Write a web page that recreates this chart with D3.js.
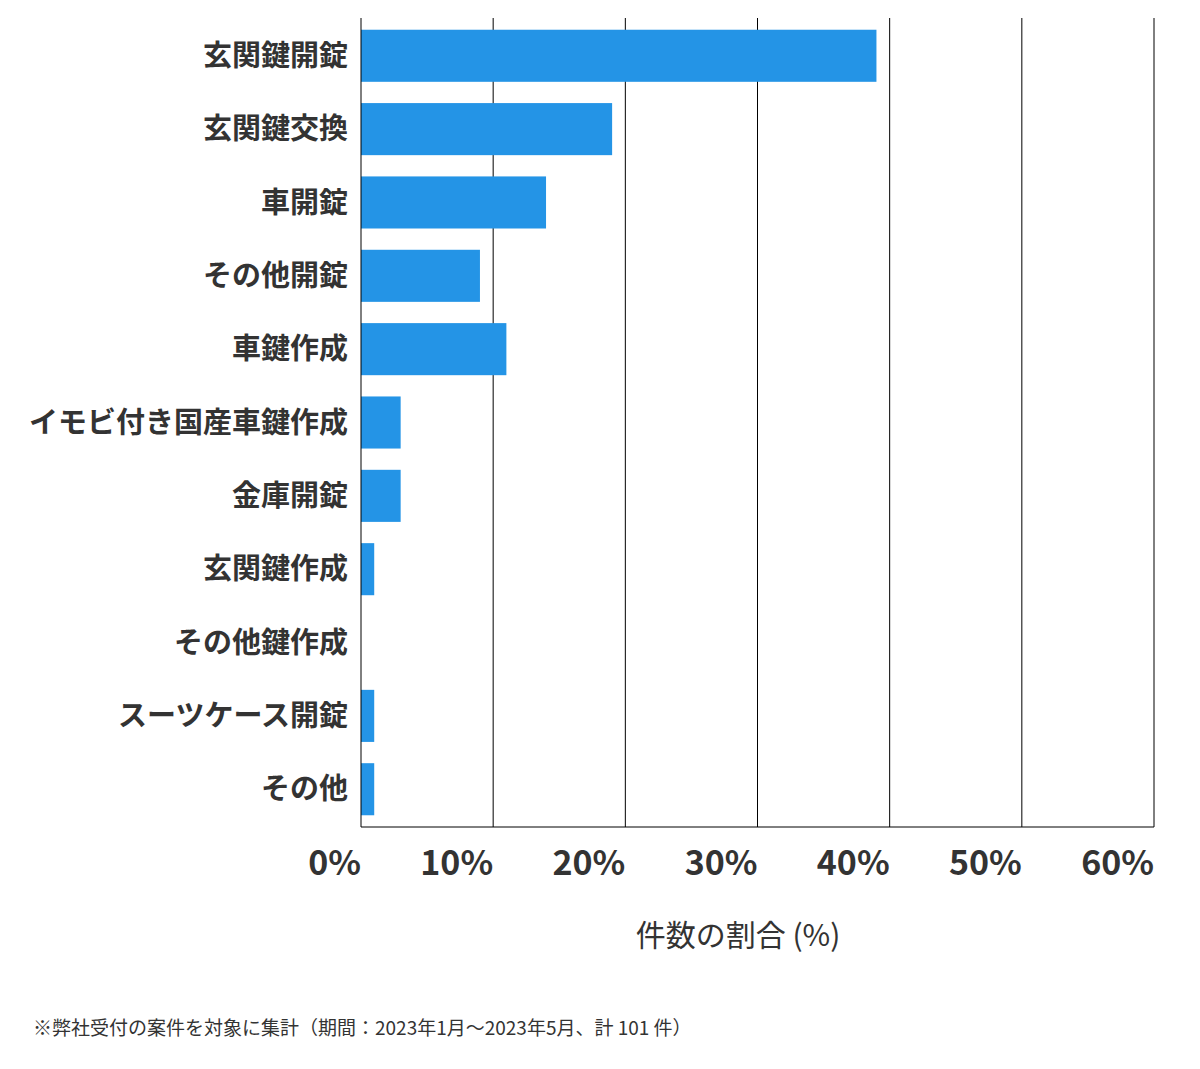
<!DOCTYPE html>
<html><head><meta charset="utf-8">
<script src="https://cdn.jsdelivr.net/npm/d3@7"></script>
<style>body{margin:0;background:#fff;font-family:"Noto Sans CJK JP","Noto Sans",sans-serif;}</style>
</head><body><svg id="chart" width="1200" height="1069"></svg>
<script>
var categories = ['玄関鍵開錠','玄関鍵交換','車開錠','その他開錠','車鍵作成','イモビ付き国産車鍵作成','金庫開錠','玄関鍵作成','その他鍵作成','スーツケース開錠','その他'];
var values = [39.0, 19.0, 14.0, 9.0, 11.0, 3.0, 3.0, 1.0, 0, 1.0, 1.0];
var ticks = [0, 10, 20, 30, 40, 50, 60];

var svg = d3.select('#chart');
var plotLeft = 361, plotRight = 1154, plotTop = 18, plotBottom = 827;

var x = d3.scaleLinear().domain([0, 60]).range([plotLeft, plotRight]);
var y = d3.scaleBand().domain(categories).range([plotTop, plotBottom]).paddingInner(0.29).paddingOuter(0.16);

//gridlines
svg.selectAll('.grid').data(ticks.slice(1)).enter().append('line')
	.attr('x1', d => x(d)).attr('x2', d => x(d))
	.attr('y1', plotTop).attr('y2', plotBottom)
	.attr('stroke', '#000').attr('stroke-width', 1);

svg.selectAll('.bar').data(values).enter().append('rect')
	.attr('x', x(0))
	.attr('y', (d, i) => y(categories[i]))
	.attr('width', d => x(d) - x(0))
	.attr('height', y.bandwidth())
	.attr('fill', '#2494e6');

//axes lines
svg.append('line').attr('x1', plotLeft).attr('x2', plotLeft).attr('y1', plotTop).attr('y2', plotBottom).attr('stroke', '#000');
svg.append('line').attr('x1', plotLeft).attr('x2', plotRight).attr('y1', plotBottom).attr('y2', plotBottom).attr('stroke', '#000');

svg.selectAll('.cat').data(categories).enter().append('text')
	.attr('x', 348).attr('y', d => y(d) + y.bandwidth() / 2)
	.attr('dy', '0.35em').attr('text-anchor', 'end')
	.attr('font-size', 29).attr('font-weight', 'bold').attr('fill', '#333')
	.text(d => d);

svg.selectAll('.tick').data(ticks).enter().append('text')
	.attr('x', d => x(d)).attr('y', 875)
	.attr('text-anchor', 'end')
	.attr('font-size', 34).attr('font-weight', 'bold').attr('fill', '#333')
	.text(d => d + '%');

svg.append('text').attr('x', 738).attr('y', 946).attr('text-anchor', 'middle')
	.attr('font-size', 30).attr('fill', '#333').text('件数の割合 (%)');

svg.append('text').attr('x', 33).attr('y', 1035)
	.attr('font-size', 19).attr('fill', '#333')
	.text('※弊社受付の案件を対象に集計（期間：2023年1月～2023年5月、計 101 件）');
</script></body></html>
